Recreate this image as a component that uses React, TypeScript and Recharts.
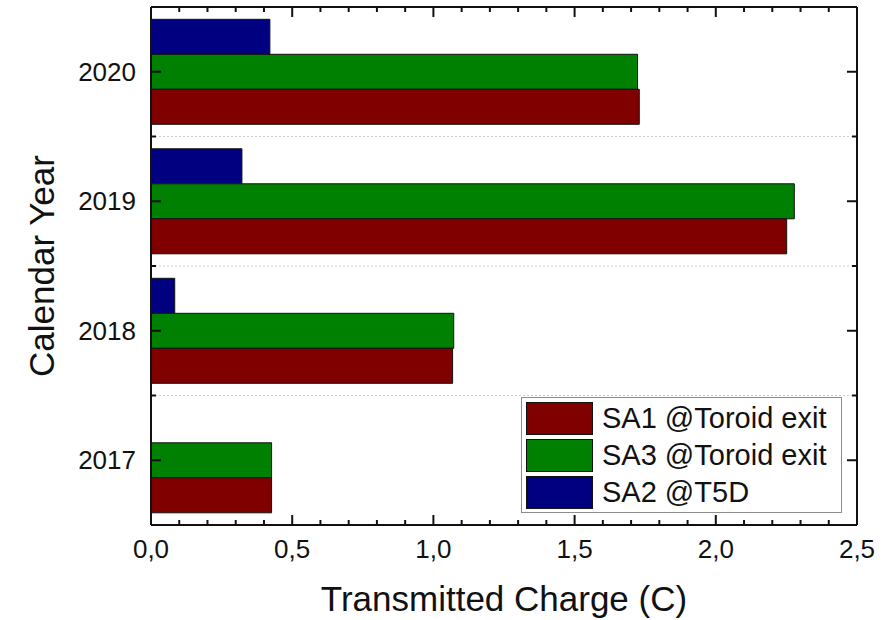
import { BarChart, Bar, XAxis, YAxis, CartesianGrid, Legend } from "recharts";

// values (top category first)
const years = ["2020", "2019", "2018", "2017"];
const sa1Toroid = [1.729, 2.251, 1.068, 0.427];
const sa3Toroid = [1.723, 2.278, 1.072, 0.427];
const sa2T5D = [0.421, 0.322, 0.084, 0];

const xTicks = [
    0, 0.1, 0.2, 0.3, 0.4, 0.5, 0.6, 0.7, 0.8, 0.9, 1.0, 1.1, 1.2,
    1.3, 1.4, 1.5, 1.6, 1.7, 1.8, 1.9, 2.0, 2.1, 2.2, 2.3, 2.4, 2.5,
];
const xTickLabels = ["0,0", "0,5", "1,0", "1,5", "2,0", "2,5"];

const seriesNames: Record<string, string> = {
    sa1: "SA1 @Toroid exit",
    sa3: "SA3 @Toroid exit",
    sa2: "SA2 @T5D",
};
const seriesColors: Record<string, string> = {
    sa1: "#800000",
    sa3: "#008000",
    sa2: "#000080",
};
const legendOrder = ["sa1", "sa3", "sa2"];

const data = years.map((year, i) => ({
    year,
    sa1: sa1Toroid[i],
    sa3: sa3Toroid[i],
    sa2: sa2T5D[i],
}));

const FONT = '"Liberation Sans", Arial, sans-serif';
const INK = "#111";

// ticks point inward like the original plot
const BottomTick = (props: any) => {
    const { x, y, index } = props;
    const major = index % 5 === 0;
    return (
        <g>
            <line x1={x} x2={x} y1={y} y2={y - (major ? 10 : 5)} stroke={INK} strokeWidth={2} />
            {major && (
                <text x={x} y={y + 33} textAnchor="middle" fontSize={26} fontFamily={FONT} fill={INK}>
                    {xTickLabels[index / 5]}
                </text>
            )}
        </g>
    );
};

const TopTick = (props: any) => {
    const { x, y, index } = props;
    const major = index % 5 === 0;
    return <line x1={x} x2={x} y1={y} y2={y + (major ? 10 : 5)} stroke={INK} strokeWidth={2} />;
};

// minor tick at the lower edge of each band (half a band below the centre)
const edgeBelow = (props: any) => {
    const { y, index, payload } = props;
    const half = payload && typeof payload.offset === "number" ? payload.offset : 0;
    if (!half || index >= years.length - 1) return null;
    return y + half;
};

const LeftCatTick = (props: any) => {
    const { x, y, payload } = props;
    const edge = edgeBelow(props);
    return (
        <g>
            <line x1={x} x2={x + 10} y1={y} y2={y} stroke={INK} strokeWidth={2} />
            {edge !== null && <line x1={x} x2={x + 5} y1={edge} y2={edge} stroke={INK} strokeWidth={2} />}
            <text x={x - 15} y={y + 9} textAnchor="end" fontSize={26} fontFamily={FONT} fill={INK}>
                {payload.value}
            </text>
        </g>
    );
};

const RightCatTick = (props: any) => {
    const { x, y } = props;
    const edge = edgeBelow(props);
    return (
        <g>
            <line x1={x} x2={x - 10} y1={y} y2={y} stroke={INK} strokeWidth={2} />
            {edge !== null && <line x1={x} x2={x - 5} y1={edge} y2={edge} stroke={INK} strokeWidth={2} />}
        </g>
    );
};

const applyScale = (s: any, v: string) => {
    if (typeof s === "function") return s(v);
    if (s && typeof s.map === "function") return s.map(v);
    if (s && typeof s.scale === "function") return s.scale(v);
    return undefined;
};

// dotted separators between the year bands, taken from the band scale
const bandBoundaries = ({ yAxis }: any) => {
    const scale = yAxis && yAxis.scale;
    if (!scale) return [];
    return years
        .slice(1)
        .map((yr) => applyScale(scale, yr))
        .filter((v: any) => typeof v === "number" && !Number.isNaN(v));
};

const LegendBox = (props: any) => {
    const payload = props.payload || [];
    return (
        <div
            style={{
                border: "1px solid #8c8c8c",
                background: "#fff",
                padding: "4px 4px",
                boxSizing: "border-box",
                width: 321,
                height: 116,
                fontFamily: FONT,
            }}
        >
            {legendOrder.map((key) => {
                const item = payload.find((p: any) => p.dataKey === key);
                return (
                    <div key={key} style={{ display: "flex", alignItems: "center", height: 33, marginBottom: 4 }}>
                        <span
                            style={{
                                display: "inline-block",
                                width: 65,
                                height: 31,
                                background: item ? item.color : seriesColors[key],
                                border: "1px solid #111",
                            }}
                        />
                        <span style={{ marginLeft: 9, fontSize: 29, color: INK, lineHeight: "33px", whiteSpace: "nowrap" }}>
                            {item ? item.value : seriesNames[key]}
                        </span>
                    </div>
                );
            })}
        </div>
    );
};

const frameLine = { stroke: INK, strokeWidth: 2 };

const App = () => {
    return (
        <div style={{ position: "absolute", left: 0, top: 0, width: 896, height: 620, background: "#fff" }}>
            <BarChart
                width={896}
                height={620}
                data={data}
                layout="vertical"
                margin={{ top: 6, right: 38, bottom: 94, left: 150 }}
                barCategoryGap="9.5%"
                barGap={0}
            >
                <CartesianGrid
                    xAxisId="x"
                    yAxisId="cat"
                    horizontal
                    vertical={false}
                    horizontalCoordinatesGenerator={bandBoundaries}
                    stroke="#cfcfcf"
                    strokeDasharray="2 2"
                />
                <XAxis
                    xAxisId="x"
                    type="number"
                    orientation="bottom"
                    domain={[0, 2.5]}
                    allowDataOverflow
                    ticks={xTicks}
                    interval={0}
                    height={1}
                    tickSize={0}
                    tickMargin={0}
                    tickLine={false}
                    tick={<BottomTick />}
                    axisLine={frameLine}
                    label={{
                        value: "Transmitted Charge (C)",
                        position: "bottom",
                        offset: 60,
                        fontSize: 35,
                        fontFamily: FONT,
                        fill: INK,
                    }}
                />
                <XAxis
                    xAxisId="top"
                    type="number"
                    orientation="top"
                    domain={[0, 2.5]}
                    allowDataOverflow
                    ticks={xTicks}
                    interval={0}
                    height={1}
                    tickSize={0}
                    tickMargin={0}
                    tickLine={false}
                    tick={<TopTick />}
                    axisLine={frameLine}
                />
                <YAxis
                    yAxisId="cat"
                    type="category"
                    dataKey="year"
                    orientation="left"
                    width={1}
                    interval={0}
                    tickSize={0}
                    tickMargin={0}
                    tickLine={false}
                    tick={<LeftCatTick />}
                    axisLine={frameLine}
                    label={{
                        value: "Calendar Year",
                        angle: -90,
                        position: "insideLeft",
                        offset: -108,
                        style: { textAnchor: "middle" },
                        fontSize: 35,
                        fontFamily: FONT,
                        fill: INK,
                    }}
                />
                <YAxis
                    yAxisId="catR"
                    type="category"
                    dataKey="year"
                    orientation="right"
                    width={1}
                    interval={0}
                    tickSize={0}
                    tickMargin={0}
                    tickLine={false}
                    tick={<RightCatTick />}
                    axisLine={frameLine}
                />
                <Bar dataKey="sa2" name={seriesNames.sa2} xAxisId="x" yAxisId="cat" fill={seriesColors.sa2} stroke={INK} strokeWidth={1} isAnimationActive={false} />
                <Bar dataKey="sa3" name={seriesNames.sa3} xAxisId="x" yAxisId="cat" fill={seriesColors.sa3} stroke={INK} strokeWidth={1} isAnimationActive={false} />
                <Bar dataKey="sa1" name={seriesNames.sa1} xAxisId="x" yAxisId="cat" fill={seriesColors.sa1} stroke={INK} strokeWidth={1} isAnimationActive={false} />
                <Legend
                    layout="vertical"
                    align="center"
                    verticalAlign="middle"
                    content={<LegendBox />}
                    wrapperStyle={{ left: 521, top: 397, width: 321, height: 116 }}
                />
            </BarChart>
        </div>
    );
};

export default App;
